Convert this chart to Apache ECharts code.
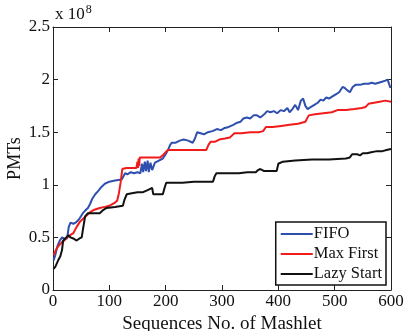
<!DOCTYPE html>
<html>
<head>
<meta charset="utf-8">
<script src="https://cdn.jsdelivr.net/npm/echarts@6/dist/echarts.min.js"></script>
<style>
  html, body { margin: 0; padding: 0; background: #fff; }
  #chart { width: 406px; height: 331px; }
</style>
</head>
<body>
<div id="chart"></div>
<script>
// values, y in units of 1e8
const xTicks = [0, 100, 200, 300, 400, 500, 600];
const yTicks = [0, 0.5, 1, 1.5, 2, 2.5];

const fifoPoints = [
  [1, 0.28], [4, 0.33], [8, 0.42], [12, 0.47], [16, 0.50], [20, 0.49], [25, 0.49],
  [28, 0.60], [31, 0.64], [36, 0.63], [40, 0.64], [46, 0.67], [53, 0.73], [58, 0.76],
  [62, 0.78], [66, 0.82], [70, 0.87], [75, 0.91], [80, 0.94], [86, 0.98], [92, 1.01],
  [100, 1.03], [110, 1.04], [122, 1.05], [126, 1.09], [128, 1.11], [132, 1.10],
  [138, 1.12], [144, 1.11], [150, 1.12], [155, 1.11], [158, 1.20], [160, 1.12],
  [163, 1.22], [165, 1.13], [168, 1.23], [170, 1.12], [173, 1.21], [176, 1.14],
  [181, 1.21], [188, 1.23], [195, 1.25], [200, 1.29], [204, 1.33], [208, 1.38],
  [211, 1.40], [218, 1.40], [225, 1.42], [232, 1.43], [240, 1.42], [248, 1.40],
  [252, 1.44], [256, 1.50], [262, 1.49], [268, 1.48], [275, 1.50], [283, 1.51],
  [291, 1.53], [298, 1.52], [305, 1.54], [312, 1.55], [320, 1.57], [327, 1.59],
  [333, 1.60], [338, 1.63], [344, 1.64], [350, 1.63], [356, 1.66], [362, 1.66],
  [368, 1.64], [375, 1.67], [380, 1.70], [386, 1.69], [392, 1.70], [398, 1.68],
  [404, 1.71], [410, 1.70], [416, 1.73], [420, 1.69], [425, 1.72], [430, 1.76],
  [435, 1.71], [440, 1.80], [444, 1.82], [448, 1.75], [452, 1.72], [458, 1.74],
  [464, 1.76], [470, 1.78], [475, 1.81], [480, 1.80], [485, 1.83], [490, 1.82],
  [496, 1.84], [502, 1.86], [508, 1.88], [514, 1.93], [518, 1.92], [522, 1.90],
  [527, 1.88], [532, 1.93], [537, 1.95], [545, 1.95], [552, 1.96], [560, 1.96],
  [566, 1.97], [572, 1.96], [578, 1.97], [584, 1.98], [590, 1.99], [594, 2.00],
  [597, 1.99], [599, 1.92]
];

const maxFirstPoints = [
  [1, 0.33], [5, 0.38], [10, 0.42], [15, 0.45], [20, 0.47], [25, 0.50], [30, 0.52],
  [36, 0.54], [42, 0.60], [48, 0.65], [54, 0.68], [60, 0.71], [66, 0.74], [72, 0.76],
  [83, 0.78], [92, 0.79], [100, 0.80], [110, 0.83], [114, 0.85], [117, 0.92],
  [120, 1.02], [123, 1.15], [130, 1.16], [140, 1.16], [148, 1.16], [150, 1.22],
  [151, 1.16], [152, 1.25], [153, 1.18], [154, 1.26], [165, 1.26], [180, 1.26],
  [190, 1.26], [195, 1.28], [200, 1.31], [204, 1.33], [220, 1.33], [240, 1.33],
  [260, 1.33], [272, 1.33], [276, 1.38], [280, 1.41], [288, 1.41], [295, 1.43],
  [305, 1.44], [314, 1.45], [318, 1.47], [322, 1.49], [335, 1.49], [350, 1.50],
  [365, 1.50], [373, 1.51], [378, 1.55], [390, 1.55], [405, 1.56], [420, 1.57],
  [435, 1.58], [448, 1.60], [451, 1.61], [454, 1.66], [465, 1.67], [480, 1.68],
  [495, 1.69], [505, 1.71], [520, 1.71], [535, 1.72], [548, 1.73], [555, 1.74],
  [560, 1.77], [570, 1.78], [580, 1.79], [590, 1.80], [600, 1.79]
];

const lazyStartPoints = [
  [1, 0.20], [4, 0.22], [9, 0.28], [13, 0.32], [16, 0.38], [18, 0.47], [22, 0.49],
  [27, 0.52], [31, 0.50], [36, 0.49], [42, 0.47], [47, 0.49], [51, 0.50], [53, 0.57],
  [57, 0.70], [62, 0.73], [70, 0.73], [83, 0.73], [89, 0.76], [95, 0.78], [110, 0.79],
  [124, 0.80], [127, 0.86], [131, 0.91], [140, 0.92], [150, 0.93], [160, 0.93],
  [168, 0.95], [176, 0.97], [178, 0.91], [186, 0.91], [195, 0.91], [198, 0.97],
  [201, 1.02], [215, 1.02], [230, 1.02], [250, 1.03], [270, 1.03], [284, 1.03],
  [287, 1.08], [290, 1.11], [310, 1.11], [330, 1.11], [345, 1.12], [360, 1.12],
  [364, 1.14], [368, 1.15], [375, 1.13], [390, 1.13], [397, 1.13], [400, 1.20],
  [408, 1.22], [430, 1.23], [460, 1.24], [490, 1.24], [520, 1.25], [527, 1.26],
  [531, 1.29], [540, 1.29], [545, 1.28], [550, 1.30], [557, 1.30], [565, 1.31],
  [575, 1.32], [585, 1.32], [592, 1.33], [600, 1.34]
];

const FONT = "Liberation Serif";
const TICK_COLOR = "#222";

function lineSeries(name, points, color) {
  return {
    name: name,
    type: "line",
    data: points,
    symbol: "none",
    lineStyle: { width: 2, color: color },
    itemStyle: { color: color },
    animation: false,
    z: 3
  };
}

const chart = echarts.init(document.getElementById("chart"), null, { renderer: "canvas" });

const inwardTick = { show: true, inside: true, length: 5, lineStyle: { color: TICK_COLOR } };
const frameLine = { show: true, onZero: false, lineStyle: { color: TICK_COLOR, width: 1 } };

chart.setOption({
  backgroundColor: "#fff",
  textStyle: { fontFamily: FONT },
  grid: { left: 53, right: 15, top: 27, bottom: 41, containLabel: false, outerBoundsMode: "none" },
  legend: {
    orient: "vertical",
    right: 20,
    bottom: 46,
    padding: [3, 4, 2, 5],
    itemGap: 2,
    itemWidth: 32,
    itemHeight: 2,
    icon: "rect",
    borderColor: "#111",
    borderWidth: 1.5,
    borderRadius: 0,
    backgroundColor: "#fff",
    textStyle: { fontFamily: FONT, fontSize: 16.5, lineHeight: 18, color: "#111", padding: [0, 0, 0, -4] },
    data: ["FIFO", "Max First", "Lazy Start"]
  },
  xAxis: [
    {
      type: "value",
      min: 0,
      max: 600,
      interval: 100,
      axisLine: frameLine,
      axisTick: inwardTick,
      splitLine: { show: false },
      axisLabel: {
        color: "#111",
        fontFamily: FONT,
        fontSize: 17,
        margin: 3,
        formatter: (v) => (xTicks.includes(v) ? String(v) : "")
      },
      name: "Sequences No. of Mashlet",
      nameLocation: "middle",
      nameGap: 23,
      nameTextStyle: { color: "#111", fontFamily: FONT, fontSize: 19 }
    },
    {
      type: "value",
      position: "top",
      min: 0,
      max: 600,
      interval: 100,
      axisLine: frameLine,
      axisTick: inwardTick,
      axisLabel: { show: false },
      splitLine: { show: false }
    }
  ],
  yAxis: [
    {
      type: "value",
      min: 0,
      max: 2.5,
      interval: 0.5,
      axisLine: frameLine,
      axisTick: inwardTick,
      splitLine: { show: false },
      axisLabel: {
        color: "#111",
        fontFamily: FONT,
        fontSize: 17,
        margin: 3,
        formatter: (v) => (yTicks.includes(v) ? String(v) : "")
      },
      name: "PMTs",
      nameLocation: "middle",
      nameRotate: 90,
      nameGap: 29,
      nameMoveOverlap: false,
      nameTextStyle: { color: "#111", fontFamily: FONT, fontSize: 18 }
    },
    {
      type: "value",
      position: "right",
      min: 0,
      max: 2.5,
      interval: 0.5,
      axisLine: frameLine,
      axisTick: inwardTick,
      axisLabel: { show: false },
      splitLine: { show: false }
    }
  ],
  graphic: [
    {
      type: "text",
      left: 55,
      top: 4,
      style: {
        text: "x 10{s|8}",
        rich: { s: { fontFamily: FONT, fontSize: 12, verticalAlign: "top", padding: [0, 0, 9, 1] } },
        fontFamily: FONT,
        fontSize: 17,
        fill: "#111"
      }
    }
  ],
  series: [
    lineSeries("FIFO", fifoPoints, "#2f4fae"),
    lineSeries("Max First", maxFirstPoints, "#f21b1b"),
    lineSeries("Lazy Start", lazyStartPoints, "#111111")
  ]
});
</script>
</body>
</html>
